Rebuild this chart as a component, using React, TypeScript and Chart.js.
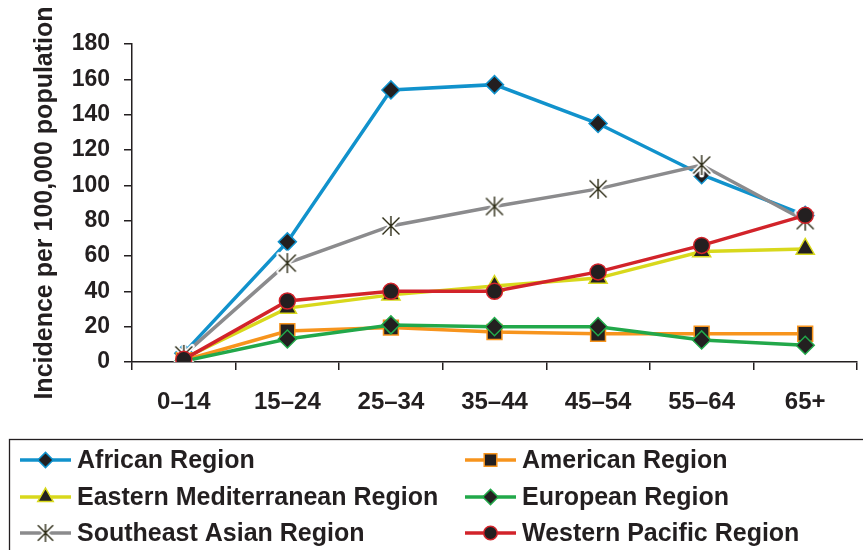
import React, { useEffect, useRef } from "react";
import { Chart, registerables } from "chart.js";
import { drawPoint } from "chart.js/helpers";

Chart.register(...registerables);

const categories = ["0–14", "15–24", "25–34", "35–44", "45–54", "55–64", "65+"];
const seriesNames = [
  "African Region",
  "American Region",
  "Eastern Mediterranean Region",
  "European Region",
  "Southeast Asian Region",
  "Western Pacific Region",
];
const african = [5, 68, 154, 157, 135, 106, 83];
const american = [1, 17.5, 19.5, 17, 16, 16, 16];
const easternMed = [2, 30.5, 38, 43, 47.5, 62.5, 64];
const european = [0.5, 13, 21, 20, 20, 12.5, 9.5];
const southeastAsian = [4, 56, 77, 88, 98, 111.5, 80];
const westernPacific = [1.5, 34.5, 40, 40, 51, 66, 83];
const yTicks = [0, 20, 40, 60, 80, 100, 120, 140, 160, 180];

const INK = "#231f20";
const FONT = "'Liberation Sans', Arial, Helvetica, sans-serif";

function makeAsterisk(size: number, halo: boolean): HTMLCanvasElement {
  const c = document.createElement("canvas");
  c.width = size;
  c.height = size;
  const g = c.getContext("2d")!;
  const m = size / 2;
  const r = size / 2 - 3;
  const d = r * 0.85;
  const draw = () => {
    g.beginPath();
    g.moveTo(m, m - r);
    g.lineTo(m, m + r);
    g.moveTo(m - d, m - d);
    g.lineTo(m + d, m + d);
    g.moveTo(m + d, m - d);
    g.lineTo(m - d, m + d);
    g.stroke();
  };
  if (halo) {
    g.strokeStyle = "#ffffff";
    g.lineWidth = 5;
    g.lineCap = "round";
    draw();
  }
  g.strokeStyle = "#2b2a14";
  g.lineWidth = 1.4;
  g.lineCap = "butt";
  draw();
  return c;
}

const legendRows = [460, 497, 533];
const legendCols = [20, 465];

const boxLegend = {
  id: "boxLegend",
  afterDraw(chart: any) {
    const ctx = chart.ctx as CanvasRenderingContext2D;
    ctx.save();
    ctx.strokeStyle = INK;
    ctx.lineWidth = 1.3;
    ctx.strokeRect(9.5, 439.5, 900, 200);
    chart.data.datasets.forEach((ds: any, i: number) => {
      const x0 = legendCols[i % 2];
      const y = legendRows[Math.floor(i / 2)];
      ctx.beginPath();
      ctx.strokeStyle = ds.borderColor;
      ctx.lineWidth = 3.5;
      ctx.moveTo(x0, y);
      ctx.lineTo(x0 + 51, y);
      ctx.stroke();
      ctx.fillStyle = ds.pointBackgroundColor;
      ctx.strokeStyle = ds.pointBorderColor;
      ctx.lineWidth = ds.pointBorderWidth;
      const style = ds.legendStyle || ds.pointStyle;
      drawPoint(
        ctx,
        { pointStyle: style, radius: ds.pointRadius * 0.85, borderWidth: ds.pointBorderWidth, rotation: 0 } as any,
        x0 + 25.5,
        y
      );
      ctx.fillStyle = INK;
      ctx.font = `bold 25px ${FONT}`;
      ctx.textBaseline = "middle";
      ctx.textAlign = "left";
      ctx.fillText(ds.label, x0 + 57, y + 1);
    });
    ctx.restore();
  },
};

export default function App() {
  const ref = useRef<HTMLCanvasElement | null>(null);

  useEffect(() => {
    if (!ref.current) return;
    const asterisk = makeAsterisk(26, true);
    const asteriskLegend = makeAsterisk(24, true);
    const mk = (
      i: number,
      data: number[],
      color: string,
      pointStyle: any,
      radius: number,
      extra: any = {}
    ) => ({
      label: seriesNames[i],
      data,
      borderColor: color,
      backgroundColor: color,
      borderWidth: 3.5,
      pointStyle,
      pointRadius: radius,
      pointHoverRadius: radius,
      pointBackgroundColor: INK,
      pointBorderColor: color,
      pointBorderWidth: 1.5,
      tension: 0,
      fill: false,
      order: 5 - i,
      ...extra,
    });
    const chart = new Chart(ref.current, {
      type: "line",
      data: {
        labels: categories,
        datasets: [
          mk(0, african, "#1192cc", "rectRot", 9),
          mk(1, american, "#f7941d", "rect", 10.5),
          mk(2, easternMed, "#d8d81c", "triangle", 10.5),
          mk(3, european, "#22a84a", "rectRot", 9),
          mk(4, southeastAsian, "#8b8b8d", asterisk, 10, { legendStyle: asteriskLegend, pointBorderColor: "#2b2a14" }),
          mk(5, westernPacific, "#d2232a", "circle", 8),
        ] as any,
      },
      options: {
        animation: false,
        responsive: false,
        layout: { autoPadding: false, padding: { left: 0, top: 44, right: 6, bottom: 128 } },
        plugins: { legend: { display: false }, tooltip: { enabled: false } },
        scales: {
          x: {
            type: "category",
            offset: true,
            border: { color: INK, width: 1.5 },
            grid: { offset: true, drawOnChartArea: false, tickLength: 8, color: INK, lineWidth: 1.5 },
            ticks: { color: INK, padding: 18, font: { family: FONT, size: 24, weight: "bold" } },
            afterFit: (s: any) => {
              s.height = 60;
              s.paddingLeft = 0;
              s.paddingRight = 0;
            },
          },
          y: {
            min: 0,
            max: 180,
            afterBuildTicks: (s: any) => {
              s.ticks = yTicks.map((v) => ({ value: v }));
            },
            border: { color: INK, width: 1.5 },
            grid: { drawOnChartArea: false, tickLength: 8, color: INK, lineWidth: 1.5 },
            ticks: { color: INK, padding: 14, font: { family: FONT, size: 23, weight: "bold" } },
            title: {
              display: true,
              text: "Incidence per 100,000 population",
              color: INK,
              padding: { top: 30, bottom: 0 },
              font: { family: FONT, size: 25, weight: "bold" },
            },
            afterFit: (s: any) => {
              s.width = 132;
            },
          },
        },
      },
      plugins: [boxLegend],
    } as any);
    return () => chart.destroy();
  }, []);

  return (
    <div style={{ position: "absolute", left: 0, top: 0, width: 863, height: 550, background: "#fff" }}>
      <canvas ref={ref} width={863} height={550} style={{ display: "block" }} />
    </div>
  );
}
